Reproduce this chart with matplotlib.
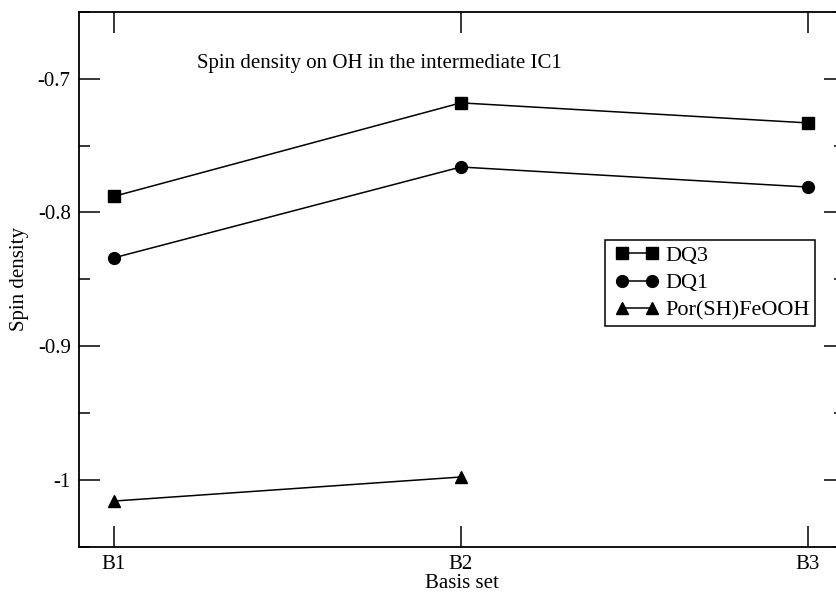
import numpy as np
import matplotlib
matplotlib.use('Agg')
import matplotlib.pyplot as plt
from matplotlib.ticker import MultipleLocator
from matplotlib.legend_handler import HandlerLine2D

plt.rcParams['font.family'] = ['Liberation Serif', 'DejaVu Serif']

basis = ['B1', 'B2', 'B3']
dq3 = [-0.788, -0.718, -0.733]
dq1 = [-0.834, -0.766, -0.781]
por = [-1.016, -0.998]

fig = plt.figure(figsize=(8.36, 5.93), dpi=100)
ax = fig.add_axes([79 / 836, 1 - 546.5 / 593, (845 - 79) / 836, (546.5 - 12) / 593])

x = np.arange(1, 4)
l1, = ax.plot(x, dq3, '-', color='k', lw=1.1, marker='s', ms=8, label='DQ3')
l2, = ax.plot(x, dq1, '-', color='k', lw=1.1, marker='o', ms=8.5, label='DQ1')
l3, = ax.plot(x[:2], por, '-', color='k', lw=1.1, marker='^', ms=9, label='Por(SH)FeOOH')

ax.set_xlim(0.9, 3.107)
ax.set_ylim(-1.05, -0.65)
ax.set_xticks(x)
ax.set_xticklabels(basis)
ax.yaxis.set_major_locator(MultipleLocator(0.1))
ax.yaxis.set_minor_locator(MultipleLocator(0.05))
ax.set_yticks([-1.0, -0.9, -0.8, -0.7])
ax.set_yticklabels(['-1', '-0.9', '-0.8', '-0.7'])
ax.tick_params(which='both', direction='in', top=True, right=True, labelsize=15, pad=6, width=1.1)
ax.tick_params(which='major', length=15)
ax.tick_params(which='minor', length=8)
for s in ax.spines.values():
    s.set_linewidth(1.3)

ax.set_xlabel('Basis set', fontsize=15, labelpad=0)
ax.set_ylabel('Spin density', fontsize=15, labelpad=6)
ax.text(197 / 836, 1 - 68 / 593, 'Spin density on OH in the intermediate IC1',
        transform=fig.transFigure, fontsize=15, va='baseline', ha='left')

hmap = {l: HandlerLine2D(marker_pad=0.5, numpoints=2) for l in (l1, l2, l3)}
leg = ax.legend(loc='upper right', bbox_to_anchor=(815 / 836, 1 - 240 / 593),
                bbox_transform=fig.transFigure, fontsize=16, handler_map=hmap,
                handlelength=2.35, handletextpad=0.09, borderpad=0.25,
                labelspacing=0.3, fancybox=False, framealpha=1, borderaxespad=0)
leg.get_frame().set_edgecolor('k')
leg.get_frame().set_linewidth(1.1)

fig.savefig('out.png', dpi=100)
